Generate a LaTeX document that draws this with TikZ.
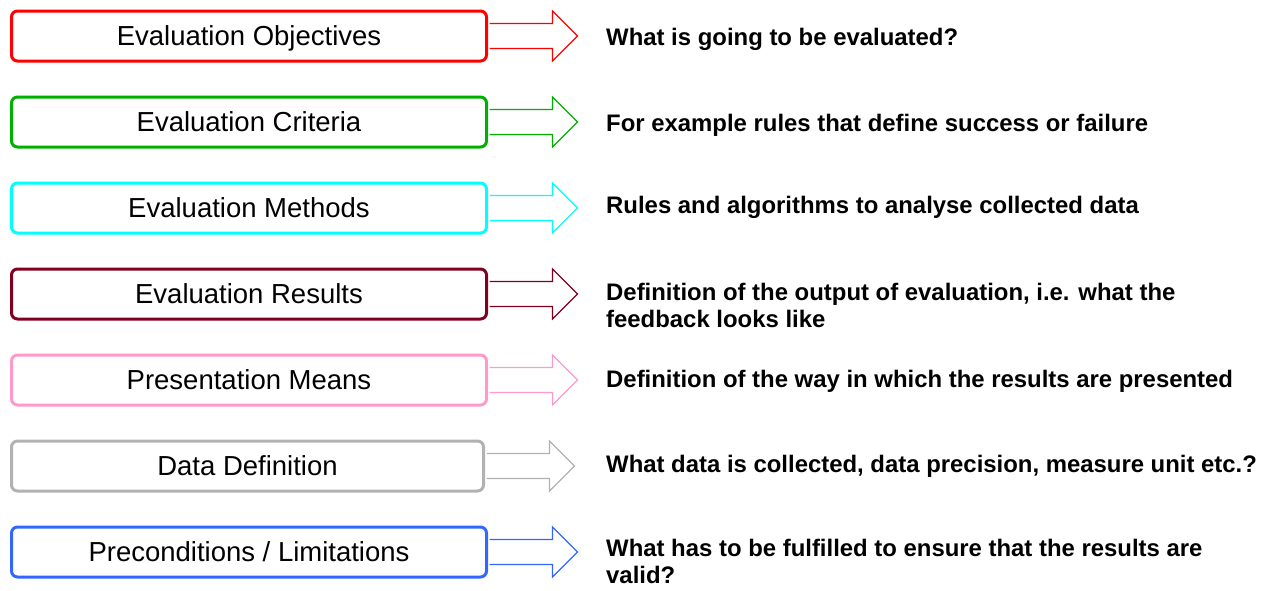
\documentclass[tikz,border=0pt]{standalone}
\usepackage{fontspec}
\setmainfont{Liberation Sans}
\definecolor{cRed}{RGB}{255,0,0}
\definecolor{cGreen}{RGB}{0,176,0}
\definecolor{cCyan}{RGB}{0,255,255}
\definecolor{cMaroon}{RGB}{128,0,32}
\definecolor{cPink}{RGB}{255,153,204}
\definecolor{cGray}{RGB}{178,178,178}
\definecolor{cBlue}{RGB}{51,102,255}
\tikzset{
  box/.style={draw=#1, line width=3pt, rounded corners=6pt, minimum width=475pt,
    minimum height=50pt, inner sep=0pt, text height=19.7pt, text depth=0pt,
    font=\fontsize{27.5}{31}\selectfont},
  desc/.style={anchor=north west, inner sep=0pt, align=left,
    font=\fontsize{23.9}{27.5}\selectfont\bfseries},
  harrow/.style={draw=#1, line width=1.1pt, line join=miter},
}
\newcommand\fatarrow[2]{\draw[harrow=#2] (#1.east) ++(1.5,-12.5) -- ++(63,0) -- ++(0,-12.5) -- ++(25,25) -- ++(-25,25) -- ++(0,-12.5) -- ++(-63,0);}
\begin{document}
\begin{tikzpicture}[x=1pt,y=-1pt]
\useasboundingbox (0,0) rectangle (1265,590);
\node[box=cRed]    (b1) at (249,36)  {Evaluation Objectives};
\node[box=cGreen]  (b2) at (249,122) {Evaluation Criteria};
\node[box=cCyan]   (b3) at (249,208) {Evaluation Methods};
\node[box=cMaroon] (b4) at (249,294) {Evaluation Results};
\node[box=cPink]   (b5) at (249,380) {Presentation Means};
\node[box=cGray, minimum width=472pt] (b6) at (247.5,466) {Data Definition};
\node[box=cBlue]   (b7) at (249,552) {Preconditions / Limitations};
\fatarrow{b1}{cRed}
\fatarrow{b2}{cGreen}
\fatarrow{b3}{cCyan}
\fatarrow{b4}{cMaroon}
\fatarrow{b5}{cPink}
\fatarrow{b6}{cGray}
\fatarrow{b7}{cBlue}
\node[desc] (t1) at (606,27.5)  {What is going to be evaluated?};
\node[desc] (t2) at (606,113.5) {For example rules that define success or failure};
\node[desc] (t3) at (606,196) {Rules and algorithms to analyse collected data};
\node[desc] (t4) at (606,282.5) {Definition of the output of evaluation, i.e. what the\\feedback looks like};
\node[desc] (t5) at (606,369.5) {Definition of the way in which the results are presented};
\node[desc] (t6) at (606,454.5) {What data is collected, data precision, measure unit etc.?};
\node[desc] (t7) at (606,538.5) {What has to be fulfilled to ensure that the results are\\valid?};
\end{tikzpicture}
\end{document}
